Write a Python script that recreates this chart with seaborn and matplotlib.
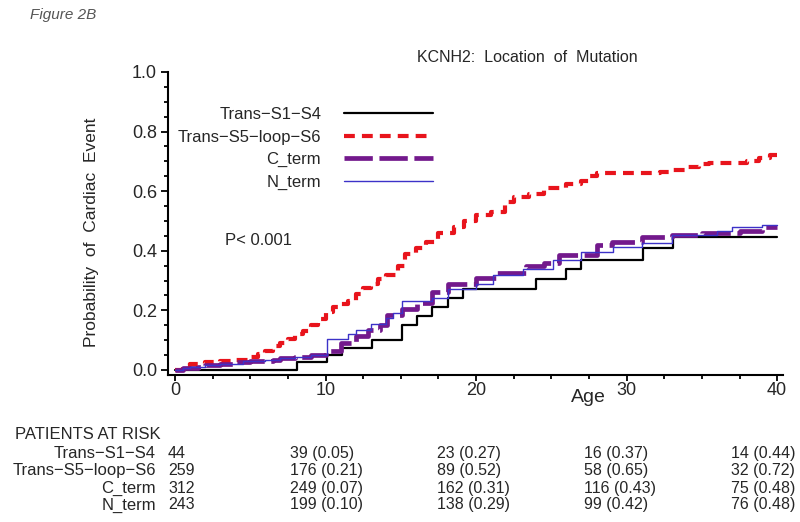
import numpy as np
import pandas as pd
import matplotlib
matplotlib.use("Agg")
import matplotlib.pyplot as plt
import matplotlib.transforms as mtransforms
from matplotlib.ticker import MultipleLocator
import seaborn as sns

# Kaplan-Meier style cumulative event curves
s1s4_age = [0, 8.1, 10.1, 11.1, 13.1, 15.1, 16.1, 17.1, 18.1, 19.1, 24.0, 26.0, 27.0, 31.1, 33.1, 40]
s1s4_prob = [0, 0.025, 0.05, 0.075, 0.10, 0.15, 0.18, 0.21, 0.24, 0.27, 0.305, 0.34, 0.37, 0.41, 0.445, 0.445]

s5s6_age = [0, 0.5, 1, 2, 3, 4, 5, 5.5, 6, 6.5, 7, 7.5, 8, 8.5, 9, 9.5, 10,
            10.5, 11, 11.5, 12, 12.5, 13, 13.5, 14, 14.8, 15.3, 16, 16.7, 17.5, 18.5, 19.2, 20,
            21, 21.9, 22.5, 23.5, 24.5, 26, 27, 27.5, 28, 32.2, 33, 34, 34.8, 35.5, 38, 38.8, 39.5, 40]
s5s6_prob = [0, 0.015, 0.02, 0.025, 0.03, 0.035, 0.045, 0.055, 0.065, 0.08, 0.09, 0.105, 0.12, 0.13, 0.15, 0.17, 0.195,
             0.21, 0.22, 0.23, 0.255, 0.275, 0.29, 0.305, 0.32, 0.35, 0.39, 0.41, 0.43, 0.46, 0.48, 0.50, 0.52,
             0.53, 0.565, 0.58, 0.59, 0.61, 0.625, 0.635, 0.65, 0.66, 0.665, 0.67, 0.68, 0.69, 0.695, 0.70, 0.71, 0.72, 0.72]

cterm_age = [0, 0.5, 1.5, 2, 3, 4, 5, 6.5, 7, 8, 9, 10, 11, 12, 12.8, 13.6, 14.1, 15.1, 16.1,
             17.1, 18.1, 20, 21.3, 23.3, 24.5, 25.5, 28, 29, 31, 33, 35, 37.5, 39, 40]
cterm_prob = [0, 0.005, 0.01, 0.015, 0.02, 0.025, 0.03, 0.035, 0.04, 0.045, 0.05, 0.065, 0.09, 0.115, 0.135, 0.15, 0.185, 0.205, 0.225,
              0.26, 0.29, 0.31, 0.325, 0.35, 0.36, 0.385, 0.42, 0.43, 0.445, 0.453, 0.46, 0.465, 0.48, 0.48]

nterm_age = [0, 0.5, 1, 2, 3, 4.5, 6, 7, 8, 9, 10.1, 11.5, 12, 13, 14, 14.5, 15.1, 17.1, 18.1, 20,
             21.1, 23.1, 25.1, 27, 29.1, 31, 33, 36, 37, 39, 40]
nterm_prob = [0, 0.005, 0.01, 0.015, 0.02, 0.03, 0.035, 0.04, 0.045, 0.05, 0.105, 0.12, 0.135, 0.155, 0.175, 0.19, 0.23, 0.24, 0.27, 0.29,
              0.32, 0.34, 0.37, 0.395, 0.413, 0.426, 0.453, 0.466, 0.48, 0.487, 0.487]

groups = ["Trans\u2212S1\u2212S4", "Trans\u2212S5\u2212loop\u2212S6", "C_term", "N_term"]

# patients at risk table
risk_ages = [0, 10, 20, 30, 40]
risk_n = [[44, 39, 23, 16, 14],
          [259, 176, 89, 58, 32],
          [312, 249, 162, 116, 75],
          [243, 199, 138, 99, 76]]
risk_p = [[None, 0.05, 0.27, 0.37, 0.44],
          [None, 0.21, 0.52, 0.65, 0.72],
          [None, 0.07, 0.31, 0.43, 0.48],
          [None, 0.10, 0.29, 0.42, 0.48]]

df = pd.concat([
    pd.DataFrame({"age": s1s4_age, "prob": s1s4_prob, "group": groups[0]}),
    pd.DataFrame({"age": s5s6_age, "prob": s5s6_prob, "group": groups[1]}),
    pd.DataFrame({"age": cterm_age, "prob": cterm_prob, "group": groups[2]}),
    pd.DataFrame({"age": nterm_age, "prob": nterm_prob, "group": groups[3]}),
])

sns.set_theme(style="ticks")
plt.rcParams['font.family'] = ['Liberation Sans', 'DejaVu Sans']

fig = plt.figure(figsize=(8, 5.22), dpi=100)
ax = fig.add_axes([0.21, 0.2816, 0.769, 0.5805])

styles = {
    groups[0]: dict(color="black", linewidth=1.6, linestyle="-"),
    groups[1]: dict(color="#E8141C", linewidth=3.0, linestyle=(0, (2.6, 1.7))),
    groups[2]: dict(color="#73198C", linewidth=3.4, linestyle=(0, (6.0, 1.4))),
    groups[3]: dict(color="#3C32C8", linewidth=1.0, linestyle="-"),
}
for g in groups:
    sns.lineplot(data=df[df["group"] == g], x="age", y="prob", estimator=None,
                 drawstyle="steps-post", label=g, ax=ax, **styles[g])

ax.set_xlim(-0.47, 40.4)
ax.set_ylim(-0.017, 1.0)
ax.xaxis.set_major_locator(MultipleLocator(10))
ax.xaxis.set_minor_locator(MultipleLocator(2.5))
ax.yaxis.set_major_locator(MultipleLocator(0.2))
ax.yaxis.set_minor_locator(MultipleLocator(0.05))
ax.yaxis.set_major_formatter(matplotlib.ticker.FormatStrFormatter("%.1f"))
ax.tick_params(axis="both", which="both", direction="out", color="black", width=1.3, labelsize=13)
ax.tick_params(axis="y", which="major", length=5, pad=3)
ax.tick_params(axis="y", which="minor", length=3)
ax.tick_params(axis="x", which="major", length=4, pad=1)
ax.tick_params(axis="x", which="minor", length=3)
sns.despine(ax=ax)
for s in ["left", "bottom"]:
    ax.spines[s].set_linewidth(1.5)
    ax.spines[s].set_color("black")

ax.set_xlabel("Age", fontsize=14)
ax.xaxis.set_label_coords(0.683, -0.045)
ax.set_ylabel("Probability  of  Cardiac  Event", fontsize=12.5)
ax.yaxis.set_label_coords(-0.112, 0.472)

leg = ax.legend(loc="upper right", bbox_to_anchor=(0.541, 0.7945), bbox_transform=fig.transFigure,
                frameon=False, markerfirst=False, fontsize=12, handlelength=5.3,
                handletextpad=1.4, labelspacing=0.45, borderpad=0, borderaxespad=0)

ax.text(3.3, 0.436, "P< 0.001", fontsize=12, va="center", ha="left")

fig.text(0.0375, 0.971, "Figure 2B", style="italic", color="#555555", fontsize=11, va="center")
fig.text(0.659, 0.889, "KCNH2:  Location  of  Mutation", fontsize=11.5, ha="center", va="center")

# patients at risk
row_y = [0.132, 0.0996, 0.065, 0.0326]
fig.text(0.019, 0.1667, "PATIENTS AT RISK", fontsize=12, va="center")
trans = mtransforms.blended_transform_factory(ax.transData, fig.transFigure)
for i, g in enumerate(groups):
    fig.text(0.195, row_y[i], g, fontsize=12, ha="right", va="center")
    for j, a in enumerate(risk_ages):
        if risk_p[i][j] is None:
            ax.text(-0.47, row_y[i], f"{risk_n[i][j]}", transform=trans, fontsize=11.5,
                    ha="left", va="center", clip_on=False)
        else:
            # SAS puts the at-risk columns slightly left of each tick
            ax.text(a * 0.976 - 2.1, row_y[i], f"{risk_n[i][j]} ({risk_p[i][j]:.2f})", transform=trans,
                    fontsize=11.5, ha="left", va="center", clip_on=False)

fig.savefig("out.png", dpi=100)
